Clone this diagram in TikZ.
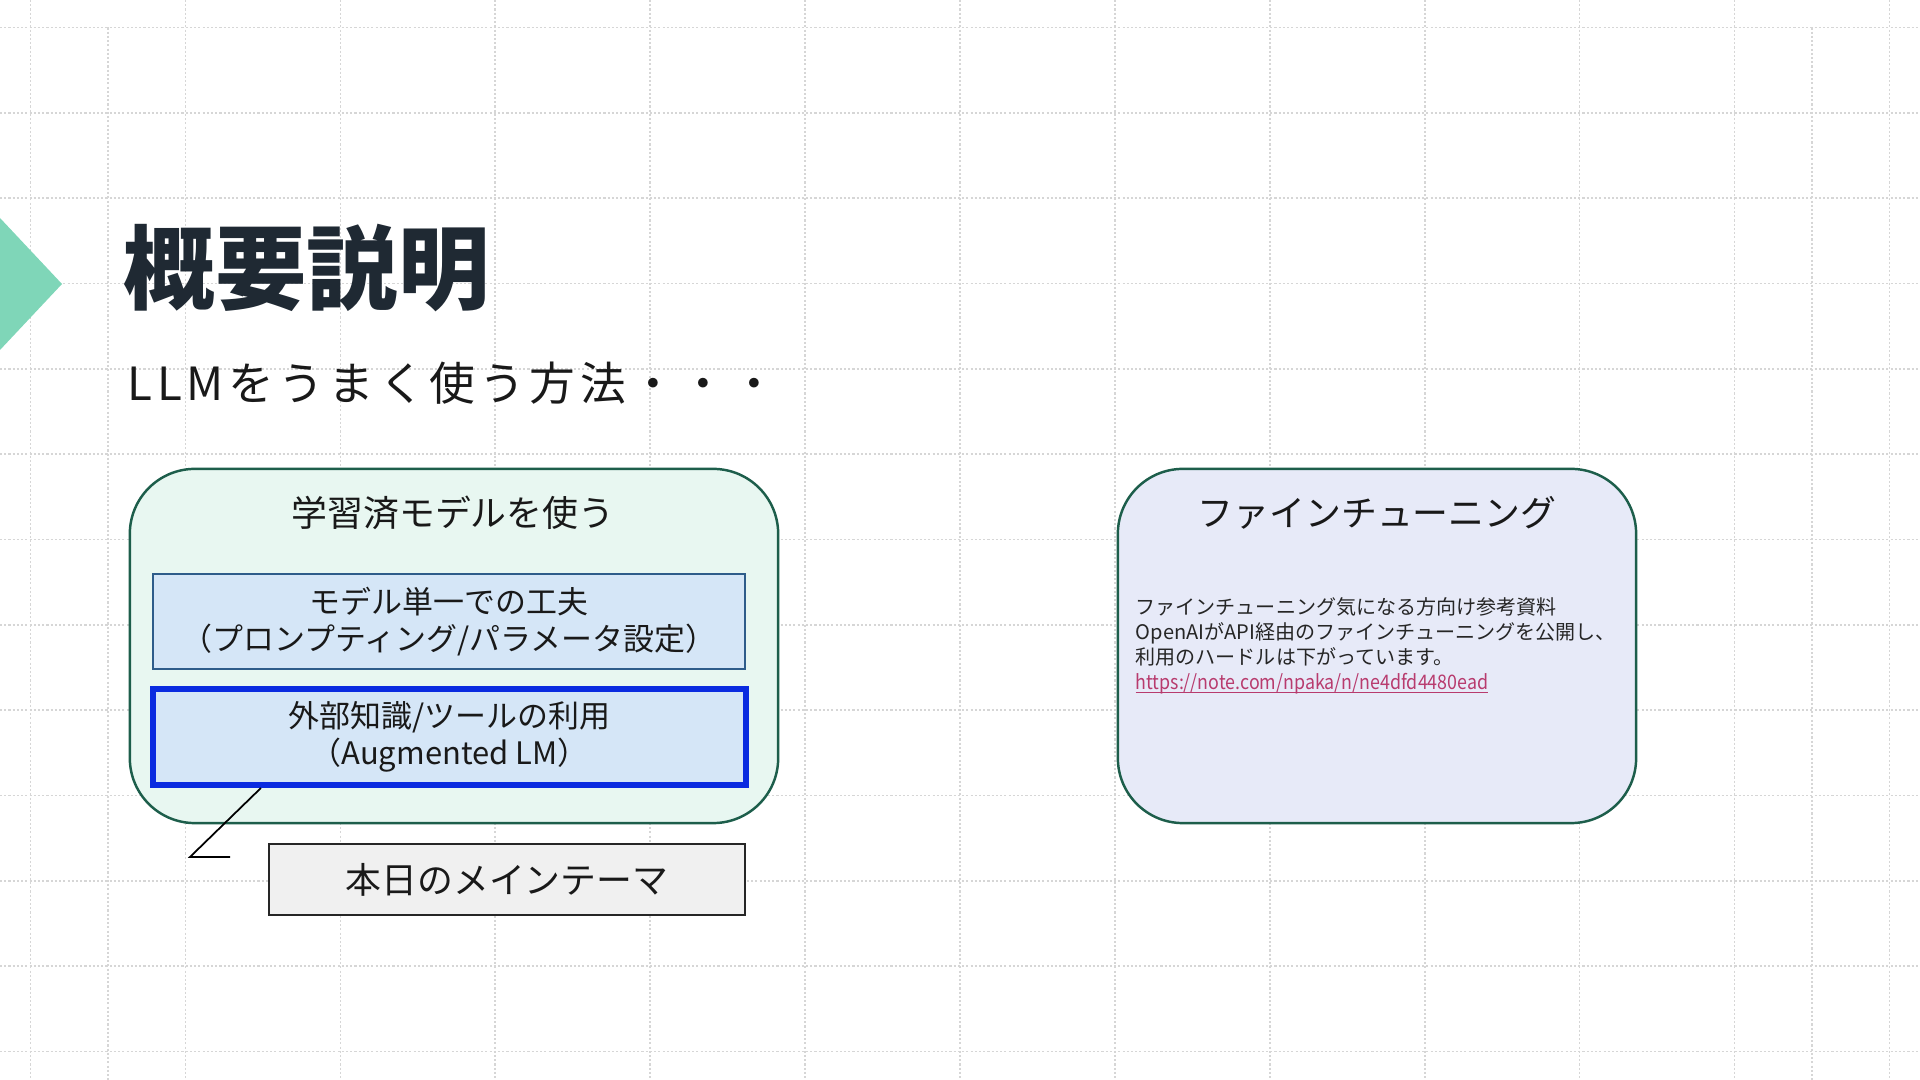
\documentclass[tikz,border=0pt]{standalone}
\usepackage{fontspec}
\setmainfont{Noto Sans CJK JP}
\usetikzlibrary{positioning}

\definecolor{mintgreen}{HTML}{7FD6B8}
\definecolor{titleink}{HTML}{1F2933}
\definecolor{panelline}{HTML}{1D5E4B}
\definecolor{panelmint}{HTML}{E8F7F1}
\definecolor{panellav}{HTML}{E7EAF8}
\definecolor{boxblue}{HTML}{D5E6F7}
\definecolor{boxline}{HTML}{2E5C8A}
\definecolor{strongblue}{HTML}{0A2BE0}
\definecolor{themegray}{HTML}{F0F0F0}
\definecolor{linkred}{HTML}{B83B6E}

% underline that sits close under the text
\newsavebox\linkbox
\newcommand\linkunder[1]{\sbox\linkbox{#1}\rlap{\rule[-1.1pt]{\wd\linkbox}{0.35pt}}\usebox\linkbox}

\tikzset{
  gridline/.style={black!16, line width=0.5pt, dash pattern=on 0.6pt off 0.6pt},
  panel/.style={draw=panelline, line width=0.7pt, rounded corners=0.65cm,
    minimum height=3.54cm},
  methodbox/.style={fill=boxblue, align=center, text=black!90,
    font=\fontsize{8.8}{10.5}\selectfont},
  headtext/.style={font=\fontsize{10.2}{12}\selectfont, text=black!90}
}

\begin{document}
\begin{tikzpicture}[x=0.01cm, y=-0.01cm]
        \useasboundingbox (0,0) rectangle (1920,1080);

        % background grid
        \foreach \k in {0,...,12}
          \draw[gridline] (0,{27.5+85.33*\k}) -- (1920,{27.5+85.33*\k});
        \foreach \k in {0,...,12}
          \draw[gridline] ({30.6+154.9*\k},0) -- ({30.6+154.9*\k},1080);
        \draw[gridline] (108,27.5) -- (108,1080);
        \draw[gridline] (1812,27.5) -- (1812,1080);

        % Heading
        \fill[mintgreen] (0,218) -- (62,284) -- (0,350) -- cycle;
        \node[anchor=base west, inner sep=0, text=titleink,
          font=\fontsize{26}{30}\selectfont\bfseries] (title) at (123,303) {概要説明};
        \node[anchor=base west, inner sep=0, text=black!90,
          font=\fontsize{13}{16}\selectfont\addfontfeature{LetterSpace=10}] (subtitle) at (127,401) {LLMをうまく使う方法・・・};

        % Left panel: pretrained models
        \node[panel, fill=panelmint, minimum width=6.48cm] (pretrained) at (454,646) {};
        \node[headtext] (pretrainedhead) at (453,513) {学習済モデルを使う};
        \node[methodbox, draw=boxline, line width=0.6pt,
          minimum width=5.92cm, minimum height=0.95cm] (single) at (449,621.5)
          {モデル単一での工夫\\（プロンプティング/パラメータ設定）};
        \node[methodbox, draw=strongblue, line width=1.7pt,
          minimum width=5.93cm, minimum height=0.96cm] (aug) at (449.5,737)
          {外部知識/ツールの利用\\（Augmented LM）};

        % callout to the main theme
        \node[draw=black!85, fill=themegray, line width=0.6pt, headtext,
          minimum width=4.76cm, minimum height=0.71cm] (theme) at (507,879.5) {本日のメインテーマ};
        \coordinate (bend) at (190,857);
        \coordinate (tail) at (230,857);
        \draw[line width=0.5pt] ([xshift=1.11cm]aug.south west) -- (bend) -- (tail);

        % Right panel: fine-tuning
        \node[panel, fill=panellav, minimum width=5.18cm] (finetune) at (1377,646) {};
        \node[headtext] (finetunehead) at (1377,513) {ファインチューニング};
        \node[anchor=north west, inner sep=0, align=left, text=black!85,
          font=\fontsize{5.7}{7.1}\selectfont] (refnote) at (1135,597)
          {ファインチューニング気になる方向け参考資料\\
           OpenAIがAPI経由のファインチューニングを公開し、\\
           利用のハードルは下がっています。\\
           {\addfontfeature{FakeStretch=0.89}\color{linkred}\linkunder{https://note.com/npaka/n/ne4dfd4480ead}}};
\end{tikzpicture}
\end{document}
